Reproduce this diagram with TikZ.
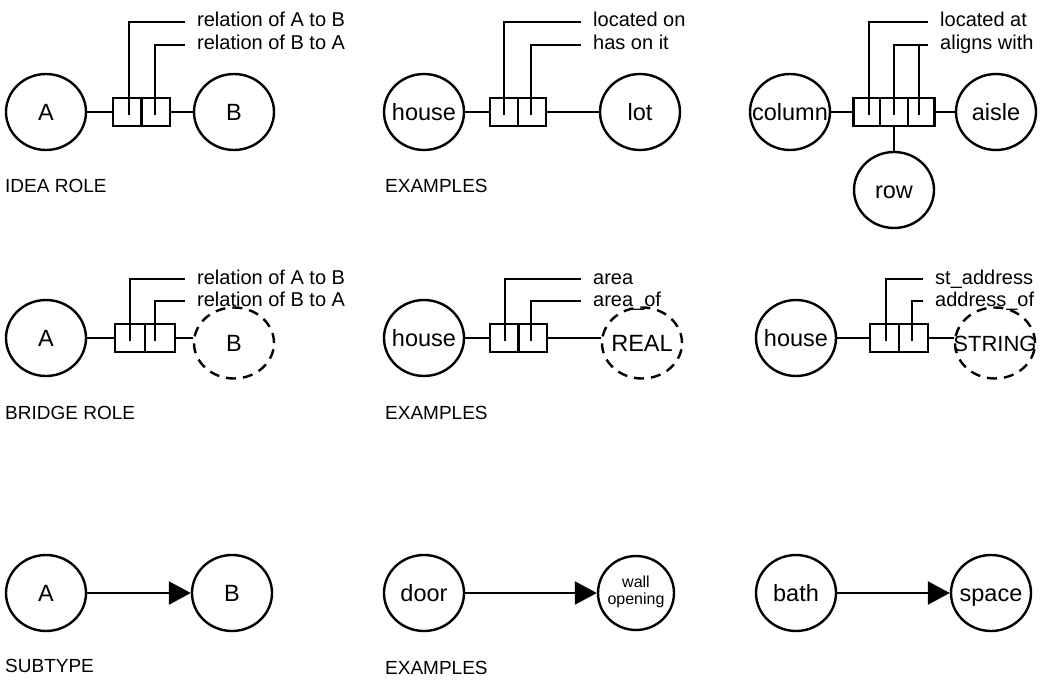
\documentclass[tikz,border=0pt]{standalone}
\usepackage{fontspec}
\setmainfont{Liberation Sans}
\usetikzlibrary{shapes.geometric,arrows.meta,calc}

\begin{document}
\begin{tikzpicture}[x=1pt,y=-1pt,
  ent/.style={ellipse,draw,line width=2.4pt,minimum width=80pt,minimum height=76pt,
    inner sep=0pt,text height=17pt,text depth=0pt,font=\fontsize{23.5}{23.5}\selectfont},
  val/.style={ent,minimum height=71pt,dash pattern=on 10pt off 7pt},
  rolebox/.style={rectangle,draw,line width=2.4pt,minimum height=28pt,inner sep=0pt},
  lbl/.style={anchor=base west,inner sep=0pt,text height=10pt,text depth=0pt,
    font=\fontsize{20}{20}\selectfont},
  capt/.style={anchor=base west,inner sep=0pt,font=\fontsize{19}{19}\selectfont},
  link/.style={line width=2.4pt},
  lead/.style={line width=1.5pt},
  isa/.style={line width=2.4pt,-{Triangle[length=22pt,width=23pt]}}
]
\useasboundingbox (0,0) rectangle (1055,682);

% ---------- idea role ----------
\node[ent] (a1) at (46,112) {\makebox[0pt]{A}};
\node[rolebox,minimum width=57pt] (r1) at (141.5,112) {};
\node[ent] (b1) at (234,112) {\makebox[0pt]{B}};
\draw[link] (a1) -- (r1);
\draw[link] (r1) -- (b1);
\draw[link] (r1.north) -- (r1.south);
\coordinate (t11) at (129,115);
\coordinate (t12) at (155,115);
\node[lbl] (l11) at (197,27) {relation of A to B};
\node[lbl] (l12) at (197,50) {relation of B to A};
\draw[lead] (t11) |- ([xshift=-12pt]l11.west);
\draw[lead] (t12) |- ([xshift=-12pt]l12.west);
\node[capt] (c1) at (5,193) {IDEA ROLE};

\node[ent] (a2) at (424,112) {\makebox[0pt]{house}};
\node[rolebox,minimum width=56pt] (r2) at (518,112) {};
\node[ent] (b2) at (640,112) {\makebox[0pt]{lot}};
\draw[link] (a2) -- (r2);
\draw[link] (r2) -- (b2);
\draw[link] (r2.north) -- (r2.south);
\coordinate (t21) at (504,115);
\coordinate (t22) at (531,115);
\node[lbl] (l21) at (593,27) {located on};
\node[lbl] (l22) at (593,50) {has on it};
\draw[lead] (t21) |- ([xshift=-12pt]l21.west);
\draw[lead] (t22) |- ([xshift=-12pt]l22.west);
\node[capt] (c2) at (385,193) {EXAMPLES};

\node[ent] (a3) at (790,112) {\makebox[0pt]{column}};
\node[rolebox,minimum width=81pt] (r3) at (894,112) {};
\node[ent] (b3) at (996,112) {\makebox[0pt]{aisle}};
\node[ent] (d3) at (894,190) {\makebox[0pt]{row}};
\draw[link] (a3) -- (r3);
\draw[link] (r3) -- (b3);
\draw[link] (r3) -- (d3);
\draw[link] ($(r3.north west)!1/3!(r3.north east)$) -- ($(r3.south west)!1/3!(r3.south east)$);
\draw[link] ($(r3.north west)!2/3!(r3.north east)$) -- ($(r3.south west)!2/3!(r3.south east)$);
\coordinate (t31) at (869,115);
\coordinate (t32) at (894,115);
\coordinate (t33) at (919,115);
\node[lbl] (l31) at (940,27) {located at};
\node[lbl] (l32) at (940,50) {aligns with};
\draw[lead] (t31) |- ([xshift=-12pt]l31.west);
\draw[lead] (t32) |- ([xshift=-12pt]l32.west);
\draw[lead] (t33) -- (t33 |- l32.west);

% ---------- bridge role ----------
\node[ent] (a4) at (46,338) {\makebox[0pt]{A}};
\node[rolebox,minimum width=60pt] (r4) at (145,338) {};
\node[val] (b4) at (234,343) {\makebox[0pt]{B}};
\draw[link] (a4) -- (r4);
\draw[link] (r4) -- (b4.west |- r4.east);
\draw[link] (r4.north) -- (r4.south);
\coordinate (t41) at (130,341);
\coordinate (t42) at (155,341);
\node[lbl] (l41) at (197,284) {relation of A to B};
\node[lbl] (l42) at (197,306) {relation of B to A};
\draw[lead] (t41) |- ([xshift=-12pt]l41.west);
\draw[lead] (t42) |- ([xshift=-12pt]l42.west);
\node[capt] (c4) at (5,419) {BRIDGE ROLE};

\node[ent] (a5) at (424,338) {\makebox[0pt]{house}};
\node[rolebox,minimum width=57pt] (r5) at (518.5,338) {};
\node[val] (b5) at (642,343) {\makebox[0pt]{REAL}};
\draw[link] (a5) -- (r5);
\draw[link] (r5) -- (b5.west |- r5.east);
\draw[link] (r5.north) -- (r5.south);
\coordinate (t51) at (505,341);
\coordinate (t52) at (531,341);
\node[lbl] (l51) at (593,284) {area};
\node[lbl] (l52) at (593,306) {area\_of};
\draw[lead] (t51) |- ([xshift=-12pt]l51.west);
\draw[lead] (t52) |- ([xshift=-12pt]l52.west);
\node[capt] (c5) at (385,419) {EXAMPLES};

\node[ent] (a6) at (796,338) {\makebox[0pt]{house}};
\node[rolebox,minimum width=58pt] (r6) at (899,338) {};
\node[val] (b6) at (995,343) {\makebox[0pt]{\fontsize{22}{22}\selectfont STRING}};
\draw[link] (a6) -- (r6);
\draw[link] (r6) -- (b6.west |- r6.east);
\draw[link] (r6.north) -- (r6.south);
\coordinate (t61) at (886,341);
\coordinate (t62) at (912,341);
\node[lbl] (l61) at (935,284) {st\_address};
\node[lbl] (l62) at (935,306) {address\_of};
\draw[lead] (t61) |- ([xshift=-12pt]l61.west);
\draw[lead] (t62) |- ([xshift=-12pt]l62.west);

% ---------- subtype ----------
\node[ent] (a7) at (46,593) {\makebox[0pt]{A}};
\node[ent] (b7) at (232,593) {\makebox[0pt]{B}};
\draw[isa] (a7) -- (b7);
\node[capt] (c7) at (5,672) {SUBTYPE};

\node[ent] (a8) at (424,593) {\makebox[0pt]{door}};
\node[ent,minimum width=76pt,minimum height=74pt,text height=8pt] (b8) at (636,593)
  {\makebox[0pt]{\fontsize{16}{17.5}\selectfont\begin{tabular}{@{}c@{}}wall\\opening\end{tabular}}};
\draw[isa] (a8) -- (b8);
\node[capt] (c8) at (385,674) {EXAMPLES};

\node[ent] (a9) at (796,593) {\makebox[0pt]{bath}};
\node[ent] (b9) at (991,593) {\makebox[0pt]{space}};
\draw[isa] (a9) -- (b9);
\end{tikzpicture}
\end{document}
